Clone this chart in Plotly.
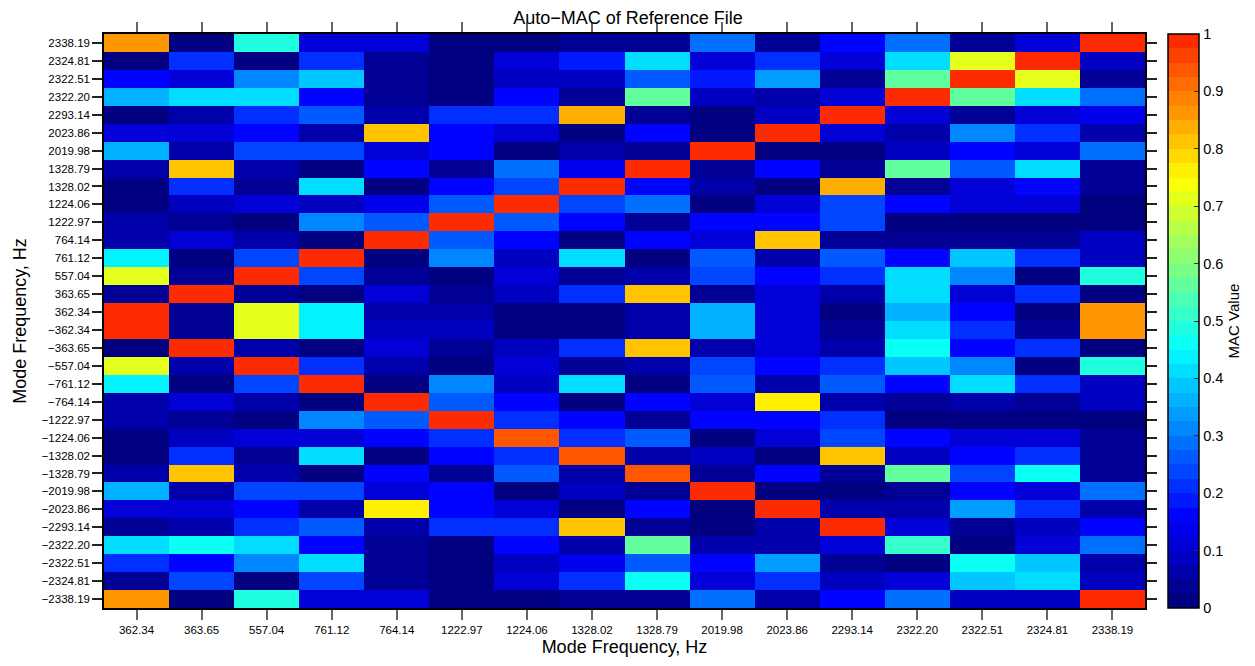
import plotly.graph_objects as go

# Column (mode) frequencies, Hz
col_labels = ["362.34", "363.65", "557.04", "761.12", "764.14", "1222.97", "1224.06",
              "1328.02", "1328.79", "2019.98", "2023.86", "2293.14", "2322.20",
              "2322.51", "2324.81", "2338.19"]

# Row labels, top to bottom
row_labels = ["2338.19", "2324.81", "2322.51", "2322.20", "2293.14", "2023.86", "2019.98",
              "1328.79", "1328.02", "1224.06", "1222.97", "764.14", "761.12", "557.04",
              "363.65", "362.34",
              "\u2212362.34", "\u2212363.65", "\u2212557.04", "\u2212761.12", "\u2212764.14",
              "\u22121222.97", "\u22121224.06", "\u22121328.02", "\u22121328.79",
              "\u22122019.98", "\u22122023.86", "\u22122293.14", "\u22122322.20",
              "\u22122322.51", "\u22122324.81", "\u22122338.19"]

# Colour bar ticks
cbar_ticks = [0, 0.1, 0.2, 0.3, 0.4, 0.5, 0.6, 0.7, 0.8, 0.9, 1]
cbar_ticktext = ["0", "0.1", "0.2", "0.3", "0.4", "0.5", "0.6", "0.7", "0.8", "0.9", "1"]

# MAC values, one list per row
mac_p2338_19 = [0.85, 0.01, 0.49, 0.10, 0.10, 0.01, 0.01, 0.03, 0.04, 0.275, 0.045, 0.15, 0.275, 0.04, 0.10, 1.00]
mac_p2324_81 = [0.015, 0.20, 0.00, 0.20, 0.03, 0.01, 0.11, 0.19, 0.42, 0.11, 0.20, 0.11, 0.42, 0.70, 1.00, 0.075]
mac_p2322_51 = [0.15, 0.12, 0.30, 0.375, 0.045, 0.01, 0.09, 0.075, 0.25, 0.19, 0.33, 0.03, 0.55, 1.00, 0.70, 0.03]
mac_p2322_20 = [0.35, 0.42, 0.40, 0.165, 0.045, 0.01, 0.15, 0.04, 0.55, 0.09, 0.055, 0.12, 1.00, 0.55, 0.42, 0.275]
mac_p2293_14 = [0.01, 0.065, 0.21, 0.25, 0.055, 0.22, 0.22, 0.84, 0.04, 0.01, 0.075, 1.00, 0.10, 0.04, 0.10, 0.14]
mac_p2023_86 = [0.11, 0.11, 0.165, 0.065, 0.80, 0.165, 0.11, 0.01, 0.165, 0.00, 1.00, 0.10, 0.065, 0.32, 0.20, 0.055]
mac_p2019_98 = [0.35, 0.055, 0.225, 0.245, 0.11, 0.165, 0.01, 0.055, 0.04, 1.00, 0.00, 0.00, 0.075, 0.17, 0.11, 0.275]
mac_p1328_79 = [0.055, 0.80, 0.055, 0.00, 0.15, 0.04, 0.275, 0.14, 1.00, 0.04, 0.165, 0.04, 0.55, 0.25, 0.42, 0.03]
mac_p1328_02 = [0.01, 0.215, 0.045, 0.40, 0.00, 0.165, 0.225, 1.00, 0.15, 0.065, 0.00, 0.83, 0.04, 0.10, 0.165, 0.03]
mac_p1224_06 = [0.01, 0.075, 0.11, 0.09, 0.14, 0.25, 1.00, 0.235, 0.275, 0.015, 0.10, 0.225, 0.15, 0.10, 0.10, 0.02]
mac_p1222_97 = [0.065, 0.04, 0.015, 0.30, 0.25, 1.00, 0.25, 0.165, 0.045, 0.165, 0.165, 0.225, 0.015, 0.015, 0.015, 0.015]
mac_p764_14 = [0.065, 0.11, 0.055, 0.00, 1.00, 0.26, 0.15, 0.015, 0.15, 0.11, 0.80, 0.045, 0.03, 0.045, 0.03, 0.09]
mac_p761_12 = [0.425, 0.01, 0.225, 1.00, 0.00, 0.30, 0.075, 0.40, 0.00, 0.26, 0.055, 0.25, 0.165, 0.375, 0.20, 0.09]
mac_p557_04 = [0.70, 0.045, 1.00, 0.225, 0.045, 0.01, 0.11, 0.04, 0.055, 0.23, 0.165, 0.20, 0.40, 0.30, 0.00, 0.49]
mac_p363_65 = [0.04, 1.00, 0.045, 0.01, 0.11, 0.03, 0.075, 0.22, 0.80, 0.04, 0.12, 0.065, 0.42, 0.12, 0.20, 0.02]
mac_p362_34 = [1.00, 0.03, 0.70, 0.425, 0.055, 0.055, 0.01, 0.01, 0.055, 0.35, 0.12, 0.015, 0.35, 0.15, 0.01, 0.85]
mac_m362_34 = [1.00, 0.03, 0.70, 0.425, 0.075, 0.075, 0.01, 0.01, 0.065, 0.35, 0.12, 0.03, 0.40, 0.20, 0.03, 0.85]
mac_m363_65 = [0.02, 1.00, 0.055, 0.01, 0.12, 0.04, 0.09, 0.21, 0.80, 0.055, 0.12, 0.065, 0.45, 0.165, 0.22, 0.01]
mac_m557_04 = [0.70, 0.055, 1.00, 0.22, 0.055, 0.02, 0.11, 0.04, 0.055, 0.245, 0.165, 0.20, 0.39, 0.30, 0.00, 0.49]
mac_m761_12 = [0.425, 0.02, 0.225, 1.00, 0.00, 0.30, 0.09, 0.40, 0.00, 0.25, 0.065, 0.25, 0.165, 0.40, 0.22, 0.09]
mac_m764_14 = [0.065, 0.12, 0.055, 0.01, 1.00, 0.25, 0.15, 0.02, 0.15, 0.11, 0.77, 0.055, 0.04, 0.055, 0.04, 0.09]
mac_m1222_97 = [0.065, 0.04, 0.01, 0.30, 0.25, 1.00, 0.20, 0.165, 0.045, 0.165, 0.165, 0.22, 0.015, 0.015, 0.015, 0.015]
mac_m1224_06 = [0.01, 0.09, 0.12, 0.10, 0.15, 0.215, 0.93, 0.22, 0.26, 0.01, 0.11, 0.225, 0.165, 0.10, 0.11, 0.03]
mac_m1328_02 = [0.01, 0.215, 0.045, 0.40, 0.01, 0.165, 0.215, 0.93, 0.055, 0.09, 0.00, 0.80, 0.075, 0.15, 0.20, 0.03]
mac_m1328_79 = [0.055, 0.80, 0.055, 0.01, 0.15, 0.04, 0.25, 0.055, 0.93, 0.04, 0.165, 0.04, 0.57, 0.245, 0.45, 0.03]
mac_m2019_98 = [0.35, 0.055, 0.225, 0.245, 0.11, 0.165, 0.01, 0.075, 0.04, 1.00, 0.01, 0.00, 0.04, 0.165, 0.11, 0.275]
mac_m2023_86 = [0.12, 0.12, 0.165, 0.065, 0.77, 0.165, 0.12, 0.01, 0.165, 0.00, 1.00, 0.055, 0.055, 0.33, 0.20, 0.055]
mac_m2293_14 = [0.03, 0.055, 0.21, 0.25, 0.055, 0.22, 0.21, 0.80, 0.03, 0.00, 0.065, 1.00, 0.11, 0.04, 0.09, 0.15]
mac_m2322_20 = [0.40, 0.45, 0.40, 0.165, 0.045, 0.01, 0.165, 0.065, 0.57, 0.055, 0.055, 0.12, 0.52, 0.00, 0.11, 0.275]
mac_m2322_51 = [0.20, 0.165, 0.30, 0.40, 0.045, 0.01, 0.09, 0.14, 0.25, 0.165, 0.33, 0.04, 0.01, 0.45, 0.375, 0.055]
mac_m2324_81 = [0.04, 0.235, 0.00, 0.225, 0.04, 0.01, 0.11, 0.22, 0.45, 0.11, 0.20, 0.09, 0.11, 0.375, 0.42, 0.09]
mac_m2338_19 = [0.85, 0.01, 0.49, 0.10, 0.10, 0.01, 0.01, 0.03, 0.04, 0.275, 0.055, 0.15, 0.275, 0.075, 0.09, 1.00]

z = [mac_p2338_19, mac_p2324_81, mac_p2322_51, mac_p2322_20, mac_p2293_14, mac_p2023_86,
     mac_p2019_98, mac_p1328_79, mac_p1328_02, mac_p1224_06, mac_p1222_97, mac_p764_14,
     mac_p761_12, mac_p557_04, mac_p363_65, mac_p362_34,
     mac_m362_34, mac_m363_65, mac_m557_04, mac_m761_12, mac_m764_14, mac_m1222_97,
     mac_m1224_06, mac_m1328_02, mac_m1328_79, mac_m2019_98, mac_m2023_86, mac_m2293_14,
     mac_m2322_20, mac_m2322_51, mac_m2324_81, mac_m2338_19]


def jet_part(v):
    """Jet colormap restricted to its navy-to-red-orange span (v in 0..1)."""
    t = v * 0.833
    r = min(max(4 * t - 1.5, 0), 1)
    g = min(max(min(4 * t - 0.5, -4 * t + 3.5), 0), 1)
    b = min(max(min(4 * t + 0.5, -4 * t + 2.5), 0), 1)
    return "rgb(%d,%d,%d)" % (round(r * 255), round(g * 255), round(b * 255))


# Banded colour scale with 40 steps
n_steps = 40
colorscale = []
for i in range(n_steps):
    c = jet_part(i / (n_steps - 1))
    colorscale.append([i / n_steps, c])
    colorscale.append([(i + 1) / n_steps, c])

font_family = "Liberation Sans, Arial, Helvetica, sans-serif"

# Plot-area geometry in pixels
W, H = 1255, 666
L, R, T, B = 104, 104, 34, 54
plot_w = W - L - R
cbar_x = (1174 - L) / plot_w
cbar_thick = 31

fig = go.Figure(go.Heatmap(
    z=z, x=col_labels, y=row_labels,
    zmin=0, zmax=1, colorscale=colorscale,
    colorbar=dict(
        x=cbar_x, xanchor="left", xref="paper",
        y=0.5, yanchor="middle", len=1, lenmode="fraction",
        thickness=cbar_thick, xpad=0, ypad=0,
        outlinewidth=1.5, outlinecolor="black",
        tickvals=cbar_ticks, ticktext=cbar_ticktext,
        ticks="inside", ticklen=5, tickcolor="#333",
        tickfont=dict(size=14.5, family=font_family, color="black"),
        title=dict(text="MAC Value", side="right",
                   font=dict(size=15, family=font_family, color="black")),
    ),
))

# Matching inside ticks on the left edge of the colour bar
for v in cbar_ticks[1:-1]:
    fig.add_shape(type="line", xref="paper", yref="paper",
                  x0=cbar_x, x1=cbar_x + 5 / plot_w, y0=v, y1=v,
                  line=dict(color="#333", width=1))

fig.update_layout(
    width=W, height=H,
    margin=dict(l=L, r=R, t=T, b=B),
    paper_bgcolor="white", plot_bgcolor="white",
    font=dict(family=font_family, color="black"),
    title=dict(text="Auto\u2212MAC of Reference File", x=628 / W, xref="container",
               xanchor="center", y=1 - 18 / H, yref="container", yanchor="middle",
               font=dict(size=18, family=font_family, color="black")),
)

fig.update_xaxes(
    type="category", categoryorder="array", categoryarray=col_labels,
    showline=True, linecolor="black", linewidth=1.5, mirror="ticks",
    ticks="outside", ticklen=10, tickcolor="#666", tickwidth=1.5,
    tickfont=dict(size=11.5, family=font_family, color="black"),
    title=dict(text="Mode Frequency, Hz", standoff=6,
               font=dict(size=18, family=font_family, color="black")),
    showgrid=False, zeroline=False,
)
fig.update_yaxes(
    type="category", categoryorder="array", categoryarray=row_labels,
    autorange="reversed",
    showline=True, linecolor="black", linewidth=1.5, mirror="ticks",
    ticks="outside", ticklen=10, tickcolor="#222", tickwidth=1.5,
    tickfont=dict(size=11.5, family=font_family, color="black"),
    title=dict(text="Mode Frequency, Hz", standoff=10,
               font=dict(size=18, family=font_family, color="black")),
    showgrid=False, zeroline=False,
)

fig.write_html("out.html")
